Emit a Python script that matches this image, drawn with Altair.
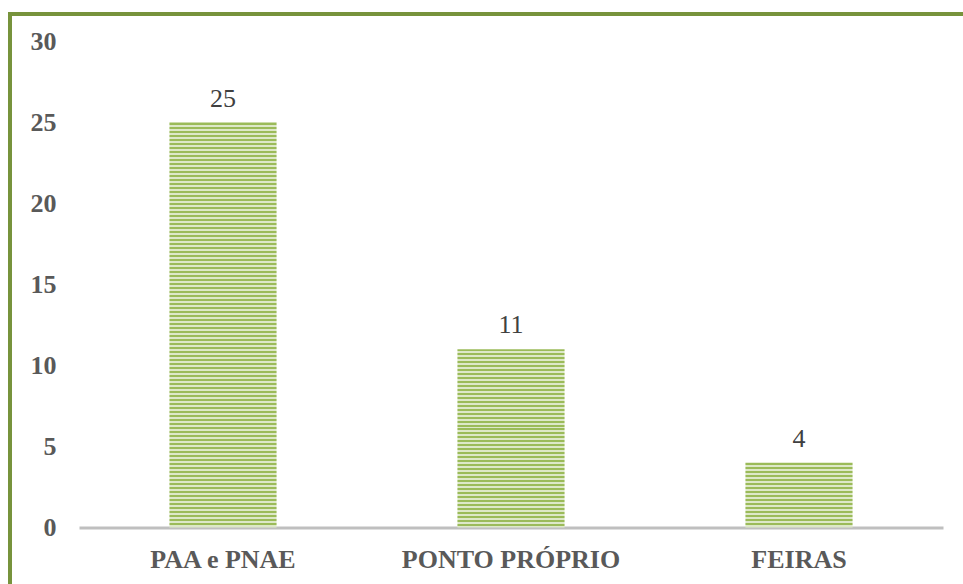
import altair as alt
import pandas as pd

# Canais de comercialização e número de respostas
canais = ["PAA e PNAE", "PONTO PRÓPRIO", "FEIRAS"]
quantidades = [25, 11, 4]
marcas_y = [0, 5, 10, 15, 20, 25, 30]

dados = pd.DataFrame({"canal": canais, "qtd": quantidades})

W, H = 864, 486
Y_MAX = 30
VERDE = "#9BBB59"
CLARO = "#DDE8C8"
PERIODO = 4.0  # altura (px) de cada par de listras
FONTE = "'Times New Roman', 'Liberation Serif', Tinos, 'DejaVu Serif', serif"


def listras(valor):
    """Gradiente com paradas duras que desenha listras horizontais na barra."""
    altura = valor * H / Y_MAX
    n = max(1, round(altura / PERIODO))
    stops = []
    for i in range(n):
        a, m, b = i / n, (i + 0.5) / n, (i + 1) / n
        stops += [
            alt.GradientStop(color=VERDE, offset=a),
            alt.GradientStop(color=VERDE, offset=m),
            alt.GradientStop(color=CLARO, offset=m),
            alt.GradientStop(color=CLARO, offset=b),
        ]
    return alt.LinearGradient(gradient="linear", stops=stops, x1=0, x2=0, y1=0, y2=1)


x_enc = alt.X(
    "canal:N",
    sort=canais,
    scale=alt.Scale(domain=canais, paddingInner=0.628, paddingOuter=0.314),
    axis=alt.Axis(
        title=None,
        labelAngle=0,
        ticks=False,
        tickSize=0,
        labelPadding=19,
        labelLimit=500,
        labelFont=FONTE,
        labelFontSize=26,
        labelFontWeight="bold",
        labelColor="#595959",
        domainColor="#BFBFBF",
        domainWidth=3,
    ),
)
y_enc = alt.Y(
    "qtd:Q",
    scale=alt.Scale(domain=[0, Y_MAX], nice=False),
    axis=alt.Axis(
        title=None,
        values=marcas_y,
        ticks=False,
        tickSize=0,
        domain=False,
        grid=False,
        labelPadding=23,
        labelFont=FONTE,
        labelFontSize=26,
        labelFontWeight="bold",
        labelColor="#595959",
    ),
)

base = alt.Chart(dados)

# uma camada por barra, para que cada uma tenha listras da mesma espessura
barras = [
    base.transform_filter(alt.datum.canal == c)
    .mark_bar(fill=listras(v), strokeWidth=0)
    .encode(x=x_enc, y=y_enc)
    for c, v in zip(canais, quantidades)
]

rotulos = base.mark_text(
    dy=-16, baseline="alphabetic", font=FONTE, fontSize=26, color="#404040"
).encode(x=x_enc, y=y_enc, text="qtd:Q")

moldura = (
    alt.Chart(pd.DataFrame({"borda": [1]}))
    .mark_rect(fillOpacity=0, stroke="#77933C", strokeWidth=4)
    .encode(
        x=alt.value(-69),
        x2=alt.value(W + 200),
        y=alt.value(-27.5),
        y2=alt.value(H + 200),
    )
)

chart = (
    alt.layer(moldura, *barras, rotulos)
    .properties(
        width=W,
        height=H,
        autosize=alt.AutoSizeParams(type="none"),
        padding={"left": 79, "top": 41.5, "right": 20, "bottom": 56.5},
        background="white",
    )
    .configure_view(strokeWidth=0)
)

chart.save("out.html", embed_options={"renderer": "svg", "actions": False})
